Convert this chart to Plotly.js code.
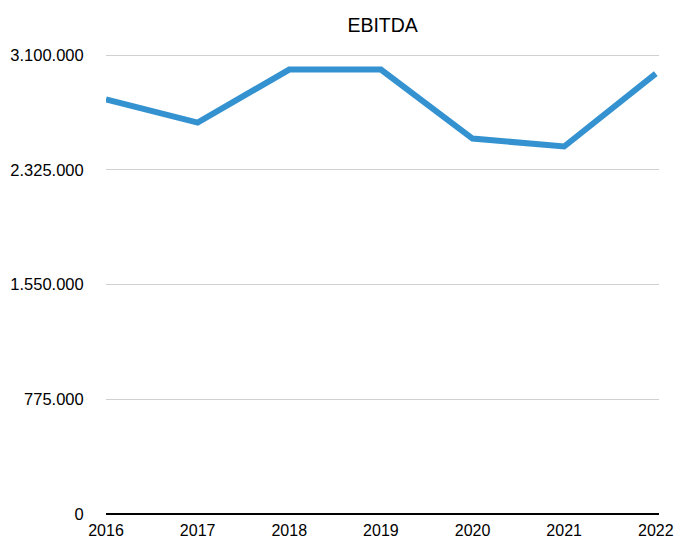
<!DOCTYPE html>
<html>
<head>
<meta charset="utf-8">
<script src="https://cdn.plot.ly/plotly-3.0.1.min.js"></script>
<style>html,body{margin:0;padding:0;background:#fff;}#chart{width:676px;height:540px;}</style>
</head>
<body>
<div id="chart"></div>
<script>
var years = ["2016", "2017", "2018", "2019", "2020", "2021", "2022"];
var ebitda = [2800000, 2644000, 3002000, 3002000, 2536000, 2482000, 2975000];
var yTicks = [0, 775000, 1550000, 2325000, 3100000];

var xIdx = years.map(function (_, i) { return i; });

var trace = {
  x: xIdx,
  y: ebitda,
  type: "scatter",
  mode: "lines",
  line: { color: "#3592d0", width: 6 },
  hoverinfo: "skip"
};

var layout = {
  width: 676,
  height: 540,
  margin: { l: 106, r: 17, t: 54, b: 26 },
  paper_bgcolor: "#fff",
  plot_bgcolor: "#fff",
  separators: ",.",
  font: { family: "Liberation Sans, Arial, sans-serif", color: "#000", size: 16 },
  title: { text: "EBITDA", x: 0.566, xanchor: "center", y: 0.953, yanchor: "middle", font: { size: 19.5, color: "#000" } },
  showlegend: false,
  xaxis: {
    range: [0, 6.035],
    tickvals: xIdx,
    ticktext: years,
    showgrid: false,
    zeroline: false,
    showline: false,
    ticks: "outside",
    ticklen: 2,
    tickcolor: "rgba(0,0,0,0)",
    tickfont: { size: 16 },
    fixedrange: true
  },
  yaxis: {
    range: [0, 3107000],
    tickvals: yTicks,
    tickformat: ",d",
    showgrid: true,
    gridcolor: "#d0d0d0",
    gridwidth: 1,
    zeroline: true,
    zerolinecolor: "#000",
    zerolinewidth: 2,
    showline: false,
    ticks: "outside",
    ticklen: 18,
    tickcolor: "rgba(0,0,0,0)",
    tickfont: { size: 16.5 },
    fixedrange: true
  }
};

Plotly.newPlot("chart", [trace], layout, { displayModeBar: false, staticPlot: true });
</script>
</body>
</html>
